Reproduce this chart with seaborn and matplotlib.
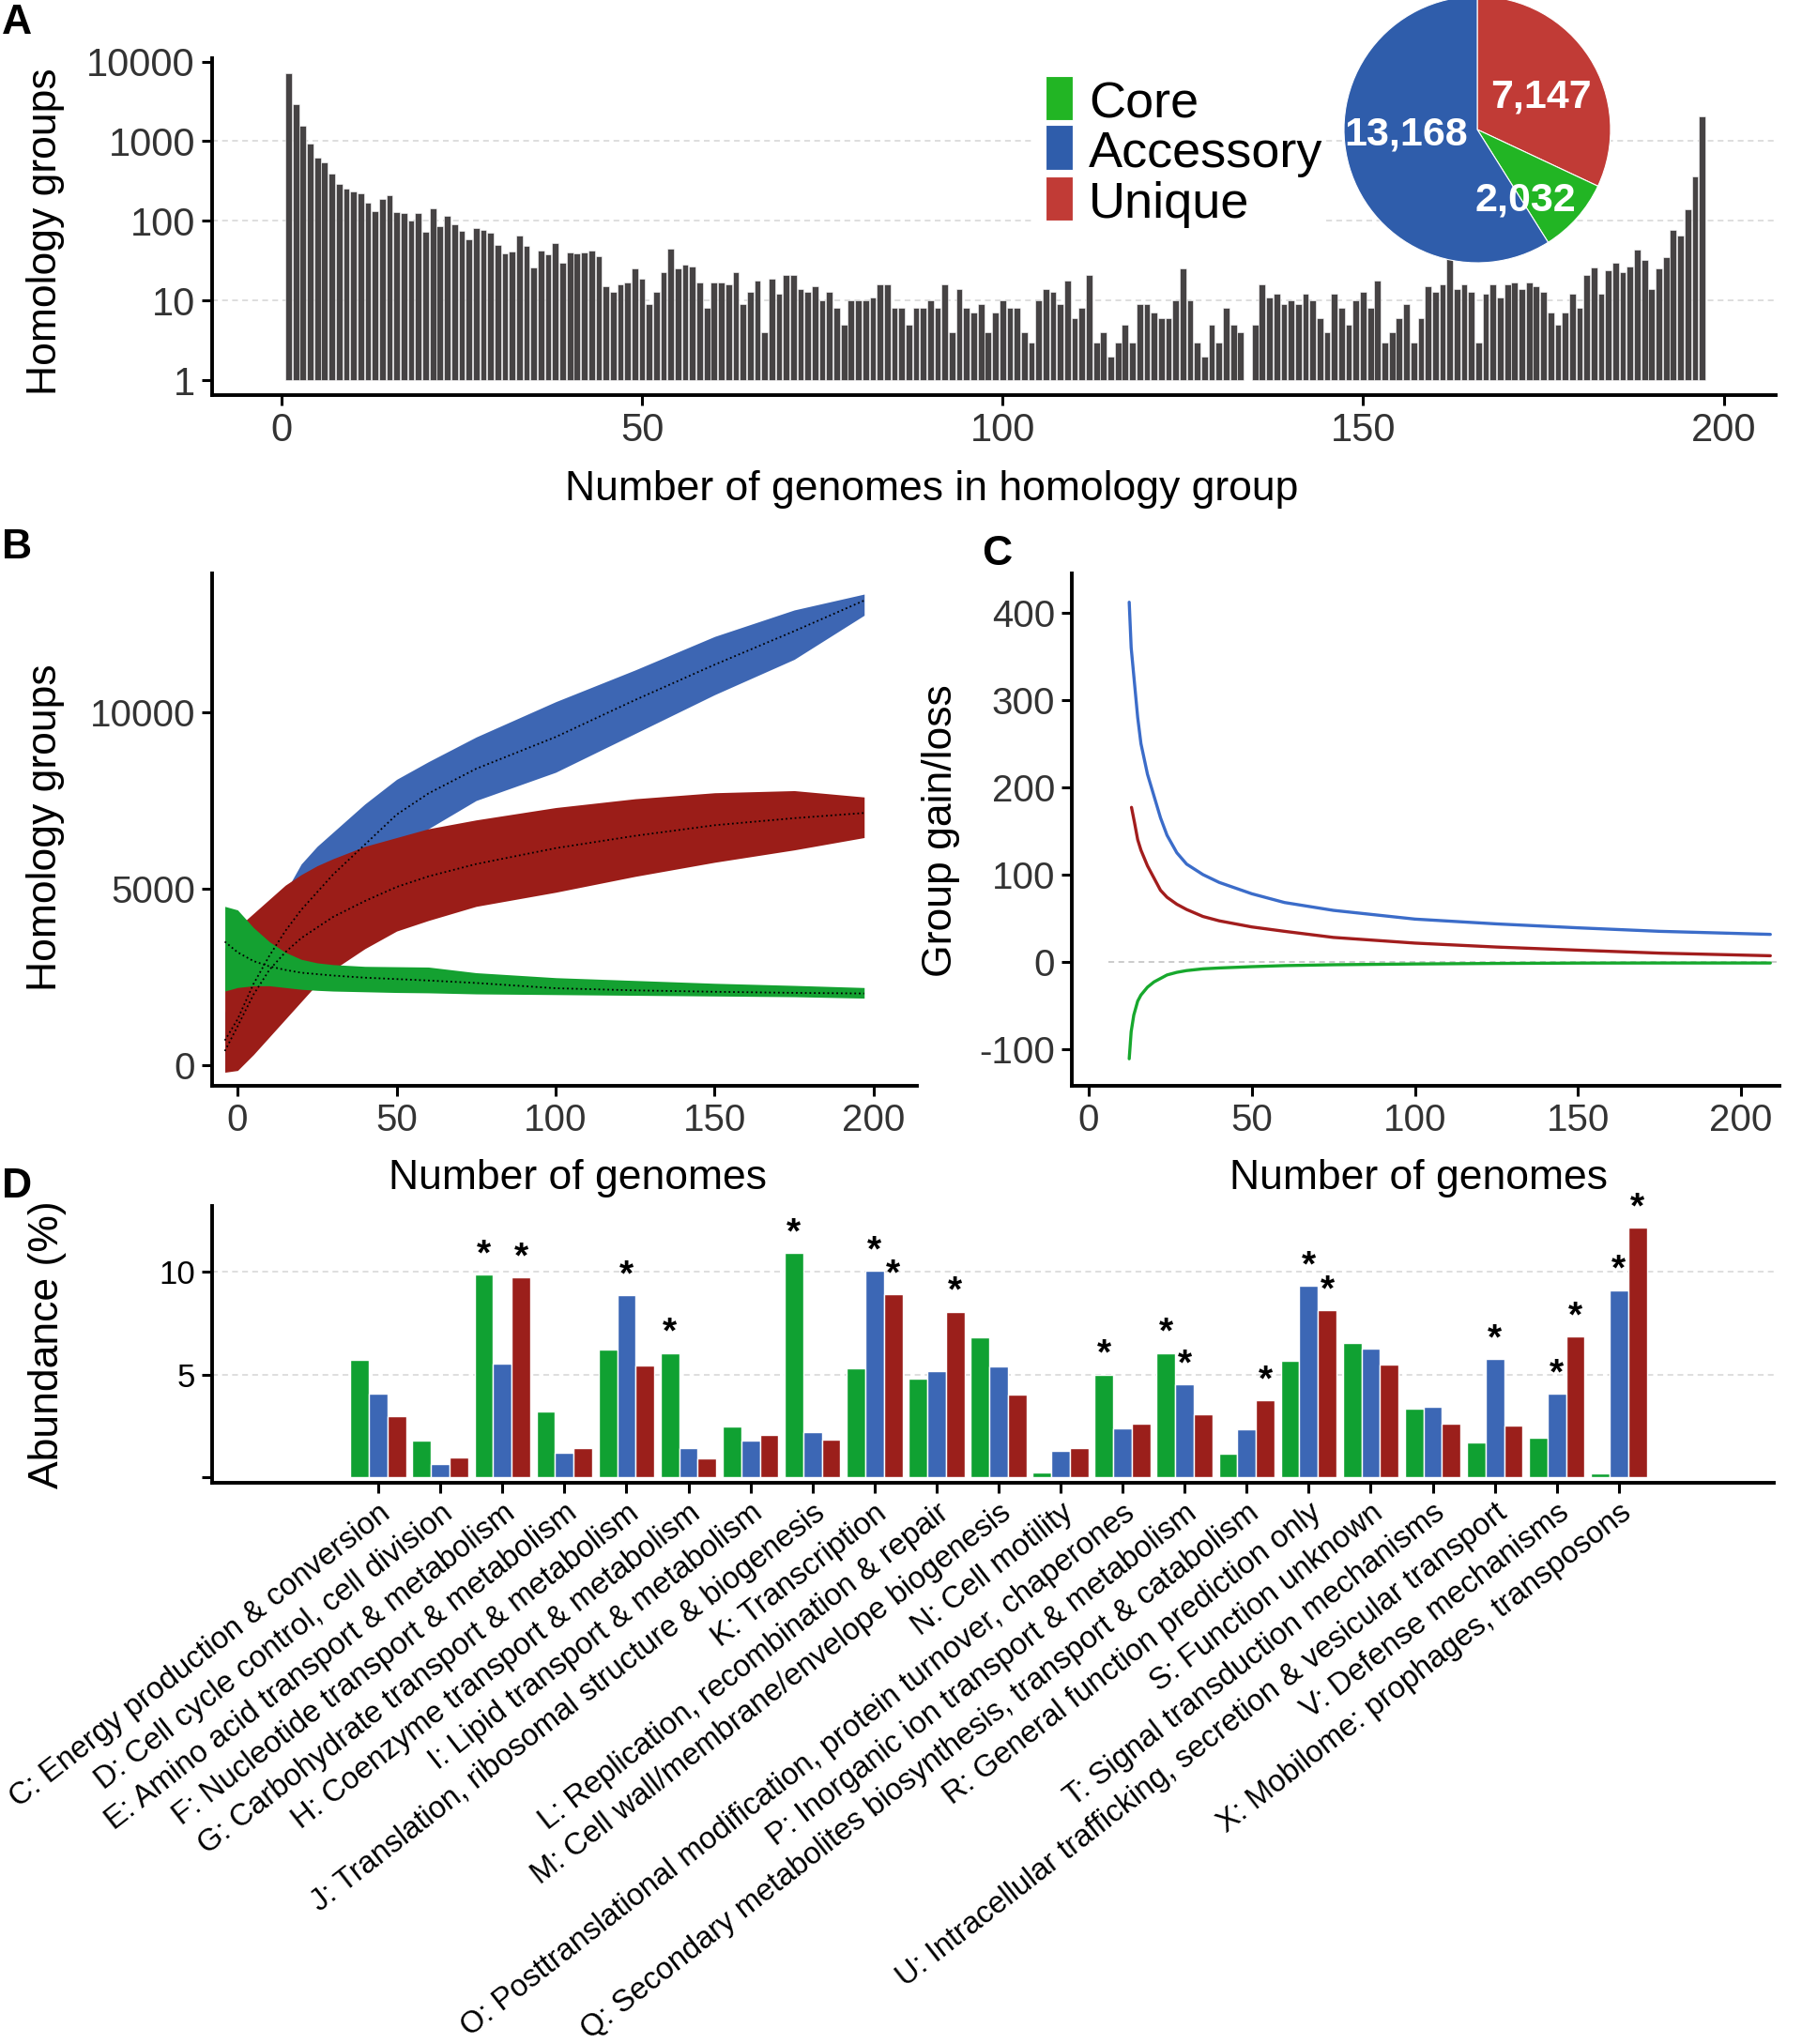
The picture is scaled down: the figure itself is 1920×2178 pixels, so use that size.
import numpy as np
import pandas as pd
import matplotlib
matplotlib.use("Agg")
import matplotlib.pyplot as plt
from matplotlib.patches import Rectangle
import seaborn as sns

# ---------------- data ----------------
# Panel A: homology-group frequency by number of genomes (1..197)
a_counts = np.array([
    7147, 2940, 1580, 921, 616, 542, 394, 291, 254, 234,
    219, 168, 134, 190, 210, 130, 127, 102, 126, 72,
    143, 85, 115, 90, 75, 59, 81, 77, 70, 50,
    39, 41, 66, 48, 26, 42, 38, 52, 30, 40,
    39, 40, 42, 36, 15, 13, 16, 17, 25, 19,
    9, 13, 23, 45, 25, 28, 27, 17, 8, 17,
    17, 16, 23, 9, 13, 18, 4, 19, 12, 21,
    21, 14, 13, 15, 10, 13, 8, 5, 10, 10,
    10, 11, 16, 16, 8, 8, 5, 8, 8, 10,
    8, 16, 4, 14, 8, 7, 9, 4, 7, 10,
    8, 8, 4, 3, 10, 14, 13, 9, 18, 6,
    8, 21, 3, 4, 2, 3, 5, 3, 9, 9,
    7, 6, 6, 10, 25, 10, 3, 2, 5, 3,
    8, 5, 4, 0, 5, 16, 11, 12, 9, 10,
    9, 12, 10, 6, 4, 12, 8, 5, 10, 13,
    8, 18, 3, 4, 6, 9, 3, 6, 15, 13,
    16, 35, 14, 16, 13, 3, 12, 16, 11, 16,
    17, 14, 17, 15, 13, 7, 5, 7, 12, 8,
    21, 26, 12, 24, 30, 23, 27, 44, 32, 14,
    25, 35, 77, 66, 138, 363, 2032])
a_genomes = np.arange(1, len(a_counts) + 1)

pie_groups = ["Unique", "Core", "Accessory"]
pie_values = [7147, 2032, 13168]
pie_labels = ["7,147", "2,032", "13,168"]
legend_groups = ["Core", "Accessory", "Unique"]

# Panel B: pan-genome rarefaction envelopes
b_x = [-4, 0, 5, 10, 15, 20, 25, 30, 40, 50, 60, 75, 100, 125, 150, 175, 197]
b_acc_hi = [1500, 2300, 3200, 3900, 4900, 5700, 6200, 6600, 7400, 8100, 8600, 9300, 10300, 11200, 12150, 12900, 13350]
b_acc_lo = [-150, -100, 400, 1000, 1800, 2600, 3300, 3900, 5000, 6000, 6700, 7500, 8300, 9400, 10500, 11500, 12750]
b_acc_mean = [700, 1300, 2300, 3100, 3800, 4400, 4900, 5400, 6250, 7100, 7700, 8400, 9300, 10350, 11350, 12300, 13168]
b_uni_hi = [3300, 3900, 4300, 4700, 5100, 5400, 5650, 5850, 6200, 6450, 6700, 6950, 7300, 7550, 7720, 7780, 7600]
b_uni_lo = [-200, -150, 300, 800, 1300, 1800, 2300, 2700, 3300, 3800, 4100, 4500, 4900, 5350, 5750, 6100, 6450]
b_uni_mean = [400, 1100, 2000, 2700, 3200, 3600, 3900, 4200, 4650, 5050, 5350, 5700, 6150, 6500, 6800, 7000, 7147]
b_core_hi = [4500, 4400, 3900, 3500, 3200, 3000, 2900, 2850, 2800, 2790, 2780, 2620, 2480, 2400, 2320, 2260, 2200]
b_core_lo = [2100, 2200, 2250, 2250, 2200, 2150, 2120, 2100, 2080, 2060, 2050, 2020, 2000, 1980, 1960, 1940, 1900]
b_core_mean = [3500, 3200, 2950, 2800, 2700, 2620, 2580, 2540, 2480, 2440, 2400, 2330, 2180, 2120, 2080, 2050, 2032]

# Panel C: group gain/loss
c_acc_x = [12.4, 13, 14, 15, 16, 18, 20, 22, 24, 27, 30, 35, 40, 50, 60, 75, 100, 125, 150, 175, 209]
c_acc_y = [412, 360, 320, 280, 250, 215, 190, 165, 145, 125, 112, 100, 91, 78, 68, 59, 49, 43.5, 39, 35, 31.5]
c_uni_x = [13.1, 14, 15, 16, 18, 20, 22, 24, 27, 30, 35, 40, 50, 60, 75, 100, 125, 150, 175, 209]
c_uni_y = [177, 160, 140, 128, 110, 96, 82, 74, 66, 60, 52, 47, 40, 35, 28, 21.5, 17, 13.4, 10, 7]
c_core_x = [12.4, 13, 13.8, 15, 16, 18, 20, 22, 24, 27, 30, 35, 40, 50, 60, 75, 100, 125, 150, 175, 209]
c_core_y = [-111, -80, -61, -45, -38, -29, -23, -19, -15, -12, -10, -8, -7, -5.5, -4.3, -3.3, -2.4, -1.8, -1.4, -1.3, -1.3]

# Panel D: COG category abundance (%)
d_labels = [
    "C: Energy production & conversion",
    "D: Cell cycle control, cell division",
    "E: Amino acid transport & metabolism",
    "F: Nucleotide transport & metabolism",
    "G: Carbohydrate transport & metabolism",
    "H: Coenzyme transport & metabolism",
    "I: Lipid transport & metabolism",
    "J: Translation, ribosomal structure & biogenesis",
    "K: Transcription",
    "L: Replication, recombination & repair",
    "M: Cell wall/membrane/envelope biogenesis",
    "N: Cell motility",
    "O: Posttranslational modification, protein turnover, chaperones",
    "P: Inorganic ion transport & metabolism",
    "Q: Secondary metabolites biosynthesis, transport & catabolism",
    "R: General function prediction only",
    "S: Function unknown",
    "T: Signal transduction mechanisms",
    "U: Intracellular trafficking, secretion & vesicular transport",
    "V: Defense mechanisms",
    "X: Mobilome: prophages, transposons",
]
d_core = [5.71, 1.77, 9.88, 3.18, 6.20, 6.05, 2.45, 10.90, 5.32, 4.82, 6.82, 0.23, 5.00, 6.05, 1.14, 5.65, 6.53, 3.36, 1.70, 1.92, 0.18]
d_acc = [4.08, 0.64, 5.53, 1.18, 8.85, 1.44, 1.77, 2.18, 10.03, 5.18, 5.38, 1.29, 2.39, 4.52, 2.32, 9.30, 6.26, 3.42, 5.74, 4.06, 9.11]
d_uni = [2.97, 0.98, 9.73, 1.44, 5.45, 0.92, 2.05, 1.83, 8.89, 8.06, 4.03, 1.44, 2.59, 3.05, 3.73, 8.14, 5.47, 2.59, 2.52, 6.85, 12.15]
d_core_sig = [0, 0, 1, 0, 0, 1, 0, 1, 0, 0, 0, 0, 1, 1, 0, 0, 0, 0, 0, 0, 0]
d_acc_sig = [0, 0, 0, 0, 1, 0, 0, 0, 1, 0, 0, 0, 0, 1, 0, 1, 0, 0, 1, 1, 1]
d_uni_sig = [0, 0, 1, 0, 0, 0, 0, 0, 1, 1, 0, 0, 0, 0, 1, 1, 0, 0, 0, 1, 1]

# ---------------- style ----------------
sns.set_theme(style="white")
plt.rcParams["font.family"] = ["Liberation Sans", "DejaVu Sans"]
plt.rcParams["axes.unicode_minus"] = False

W, H = 1920, 2178
fig = plt.figure(figsize=(W / 100, H / 100), dpi=100)

def fx(x):
    return x / W

def fy(y):
    return 1 - y / H

def px_axes(l, t, r, b):
    return fig.add_axes([l / W, 1 - b / H, (r - l) / W, (b - t) / H])

def style(ax, fs, labelcolor="#333333"):
    for s in ["top", "right"]:
        ax.spines[s].set_visible(False)
    for s in ["left", "bottom"]:
        ax.spines[s].set_linewidth(2.8)
        ax.spines[s].set_color("black")
    ax.tick_params(axis="both", which="major", direction="out", length=8, width=2.2,
                   color="black", labelsize=fs, labelcolor=labelcolor, pad=5,
                   left=True, bottom=True)
    ax.tick_params(which="minor", length=0)
    ax.set_xlabel("")
    ax.set_ylabel("")

grid_kw = dict(color="#d4d4d4", lw=1.1, ls=(0, (4, 3)), zorder=0)

pal3 = {"Core": "#22b524", "Accessory": "#2f5dab", "Unique": "#c13b36"}

# ---------------- Panel A ----------------
axA = px_axes(226, 62, 1892, 421)
mask = a_counts > 0
sns.barplot(x=a_genomes[mask], y=a_counts[mask], native_scale=True, color="#464344",
            saturation=1, width=0.88, edgecolor="white", linewidth=0.4,
            errorbar=None, ax=axA, zorder=2)
for p in axA.patches:
    h = p.get_height()
    p.set_y(1)
    p.set_height(h - 1)
axA.set_yscale("log")
axA.set_ylim(0.65, 11000)
axA.set_xlim(-9.6, 207.2)
axA.set_yticks([1, 10, 100, 1000, 10000])
axA.set_yticklabels(["1", "10", "100", "1000", "10000"])
axA.set_xticks([0, 50, 100, 150, 200])
axA.set_xticklabels(["0", "50", "100", "150", "200"])
for v in [10, 100, 1000]:
    axA.axhline(v, **grid_kw)
style(axA, 30)

# legend (manual) with white background
fig.patches.append(Rectangle((fx(1100), fy(245)), (1410 - 1100) / W, (245 - 72) / H,
                             transform=fig.transFigure, facecolor="white",
                             edgecolor="none", zorder=1))
rows = [(81, 128), (133, 181), (188, 235)]
for name, (t, b) in zip(legend_groups, rows):
    fig.patches.append(Rectangle((fx(1114), fy(b)), 29 / W, (b - t) / H,
                                 transform=fig.transFigure, facecolor=pal3[name],
                                 edgecolor="white", lw=0.8, zorder=2))
    fig.text(fx(1160), fy(b - 3), name, fontsize=39, ha="left", va="baseline",
             color="black", zorder=3)

# pie
r, pcx, pcy = 142, 1574, 138
axP = fig.add_axes([(pcx - r) / W, 1 - (pcy + r) / H, 2 * r / W, 2 * r / H])
axP.pie(pie_values, colors=[pal3[g] for g in pie_groups], startangle=90,
        counterclock=False, radius=1,
        wedgeprops=dict(linewidth=0.8, edgecolor="white"))
axP.set_xlim(-1, 1)
axP.set_ylim(-1, 1)
axP.axis("off")
label_pos = [(0.48, 0.24), (0.36, -0.53), (-0.535, -0.04)]
for txt, (lx, ly) in zip(pie_labels, label_pos):
    axP.text(lx, ly, txt, color="white", fontsize=31, fontweight="bold",
             ha="center", va="center")

# ---------------- Panel B ----------------
axB = px_axes(226, 611, 977, 1157)
bcol = {"acc": "#3d66b3", "uni": "#9b1d18", "core": "#14a131"}
axB.fill_between(b_x, b_acc_lo, b_acc_hi, color=bcol["acc"], lw=0, zorder=1)
axB.fill_between(b_x, b_uni_lo, b_uni_hi, color=bcol["uni"], lw=0, zorder=2)
axB.fill_between(b_x, b_core_lo, b_core_hi, color=bcol["core"], lw=0, zorder=3)
for m in [b_acc_mean, b_uni_mean, b_core_mean]:
    sns.lineplot(x=b_x, y=m, ax=axB, color="black", lw=1.3, linestyle=":", zorder=4)
axB.set_xlim(-8, 213.6)
axB.set_ylim(-585, 13936)
axB.set_xticks([0, 50, 100, 150, 200])
axB.set_yticks([0, 5000, 10000])
style(axB, 29)

# ---------------- Panel C ----------------
axC = px_axes(1142, 611, 1896, 1157)
axC.axhline(0, xmin=(6 + 5.2) / 217, xmax=1, color="#bdbdbd", lw=1.1, ls=(0, (4, 3)), zorder=0)
sns.lineplot(x=c_acc_x, y=c_acc_y, ax=axC, color="#3b6cc9", lw=2.4)
sns.lineplot(x=c_uni_x, y=c_uni_y, ax=axC, color="#a21d1d", lw=2.4)
sns.lineplot(x=c_core_x, y=c_core_y, ax=axC, color="#17a82d", lw=2.4)
axC.set_xlim(-5.2, 211.8)
axC.set_ylim(-142, 445)
axC.set_xticks([0, 50, 100, 150, 200])
axC.set_yticks([-100, 0, 100, 200, 300, 400])
style(axC, 29)

# ---------------- Panel D ----------------
axD = px_axes(226, 1285, 1890, 1580)
groups = ["Core", "Accessory", "Unique"]
dfD = pd.DataFrame({
    "cat": d_labels * 3,
    "group": [g for g in groups for _ in d_labels],
    "value": d_core + d_acc + d_uni,
})
dpal = {"Core": "#10a132", "Accessory": "#3c67b5", "Unique": "#9b1f1b"}
sns.barplot(data=dfD, x="cat", y="value", hue="group", hue_order=groups, order=d_labels,
            palette=dpal, saturation=1, width=0.9, errorbar=None, legend=False,
            ax=axD, zorder=2)
for v in [5, 10]:
    axD.axhline(v, **grid_kw)
for cont, sig in zip(axD.containers, [d_core_sig, d_acc_sig, d_uni_sig]):
    for bar, s in zip(cont, sig):
        if s:
            axD.text(bar.get_x() + bar.get_width() / 2, bar.get_height() + 0.12, "*",
                     ha="center", va="bottom", fontsize=28, fontweight="bold",
                     color="black")
axD.set_xlim(-2.68, 22.5)
axD.set_ylim(-0.27, 13.2)
axD.set_yticks([0, 5, 10])
axD.set_yticklabels(["", "5", "10"])
style(axD, 25, labelcolor="black")
axD.tick_params(axis="x", labelsize=23.5, pad=4)
for lbl in axD.get_xticklabels():
    lbl.set_rotation(38)
    lbl.set_ha("right")
    lbl.set_va("top")
    lbl.set_rotation_mode("anchor")

# ---------------- titles & panel letters ----------------
tkw = dict(fontsize=32, color="black", ha="center", va="center")
fig.text(fx(49), fy(247), "Homology groups", rotation=90, **tkw)
fig.text(fx(993), fy(521), "Number of genomes in homology group", **tkw)
fig.text(fx(49), fy(882), "Homology groups", rotation=90, **tkw)
fig.text(fx(615), fy(1255), "Number of genomes", **tkw)
fig.text(fx(1003), fy(885), "Group gain/loss", rotation=90, **tkw)
fig.text(fx(1512), fy(1255), "Number of genomes", **tkw)
fig.text(fx(51), fy(1433), "Abundance (%)", rotation=90, **tkw)

lkw = dict(fontsize=32, fontweight="bold", color="black", ha="left", va="center")
fig.text(fx(2), fy(24), "A", **lkw)
fig.text(fx(2), fy(583), "B", **lkw)
fig.text(fx(1046), fy(590), "C", **lkw)
fig.text(fx(2), fy(1264), "D", **lkw)

fig.savefig("out.png", dpi=100, facecolor="white")
